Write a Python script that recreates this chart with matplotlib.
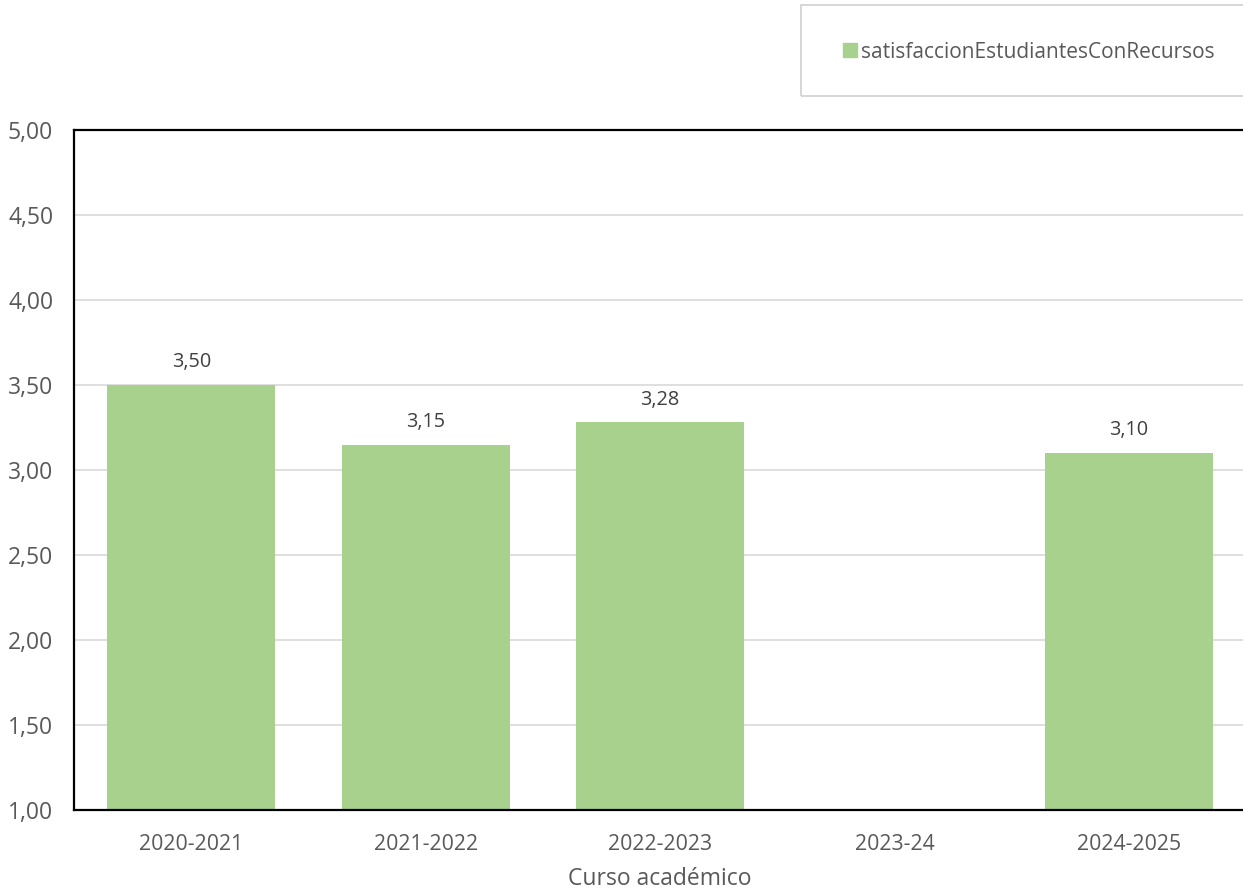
import matplotlib
matplotlib.use("Agg")
import matplotlib.pyplot as plt
import numpy as np
from matplotlib.patches import Rectangle, Patch

categories = ["2020-2021", "2021-2022", "2022-2023", "2023-24", "2024-2025"]
values = [3.50, 3.15, 3.28, np.nan, 3.10]
series_name = "satisfaccionEstudiantesConRecursos"
y_ticks = [1.0, 1.5, 2.0, 2.5, 3.0, 3.5, 4.0, 4.5, 5.0]

plt.rcParams['font.family'] = ['Open Sans', 'DejaVu Sans']
W, H = 1243, 892
fig = plt.figure(figsize=(W/100, H/100), dpi=100)
left, right, top, bottom = 74, 1246, 130, 810
ax = fig.add_axes([left/W, (H-bottom)/H, (right-left)/W, (bottom-top)/H])

green = "#a9d18e"
txt = "#595959"
x = np.arange(len(categories))
bars = ax.bar(x, values, width=0.717, color=green, zorder=3, bottom=0)
ax.set_xlim(-0.5, len(categories)-0.5)
ax.set_ylim(1.0, 5.0)
ax.set_yticks(y_ticks)
ax.set_yticklabels([f"{v:.2f}".replace(".", ",") for v in y_ticks])
ax.set_xticks(x)
ax.set_xticklabels(categories)
ax.tick_params(axis='both', length=0, labelcolor=txt)
ax.tick_params(axis='y', pad=15, labelsize=16.5)
ax.tick_params(axis='x', pad=17, labelsize=15.3)
ax.grid(axis='y', color="#d9d9d9", linewidth=1.2, zorder=0)
for s in ['left', 'top', 'bottom']:
    ax.spines[s].set_color('black')
    ax.spines[s].set_linewidth(1.6)
    ax.spines[s].set_zorder(5)
ax.spines['right'].set_visible(False)

labels = ["" if np.isnan(v) else f"{v:.2f}".replace(".", ",") for v in values]
ax.bar_label(bars, labels=labels, padding=9, fontsize=14.3, color="#404040")

ax.set_xlabel("Curso académico", fontsize=16.5, color=txt, labelpad=9)

# legend frame
fig.patches.append(Rectangle((801/W, (H-96)/H), (1250-801)/W, 91/H,
                             transform=fig.transFigure, fill=False,
                             edgecolor="#d0d0d0", linewidth=1.2))
fig.legend(handles=[Patch(color=green, label=series_name)],
           loc='center left', bbox_to_anchor=(843/W, (H-52)/H),
           frameon=False, fontsize=15, labelcolor=txt,
           handlelength=0.65, handleheight=0.65, handletextpad=0.2,
           borderpad=0, borderaxespad=0)

fig.savefig("out.png", dpi=100)
